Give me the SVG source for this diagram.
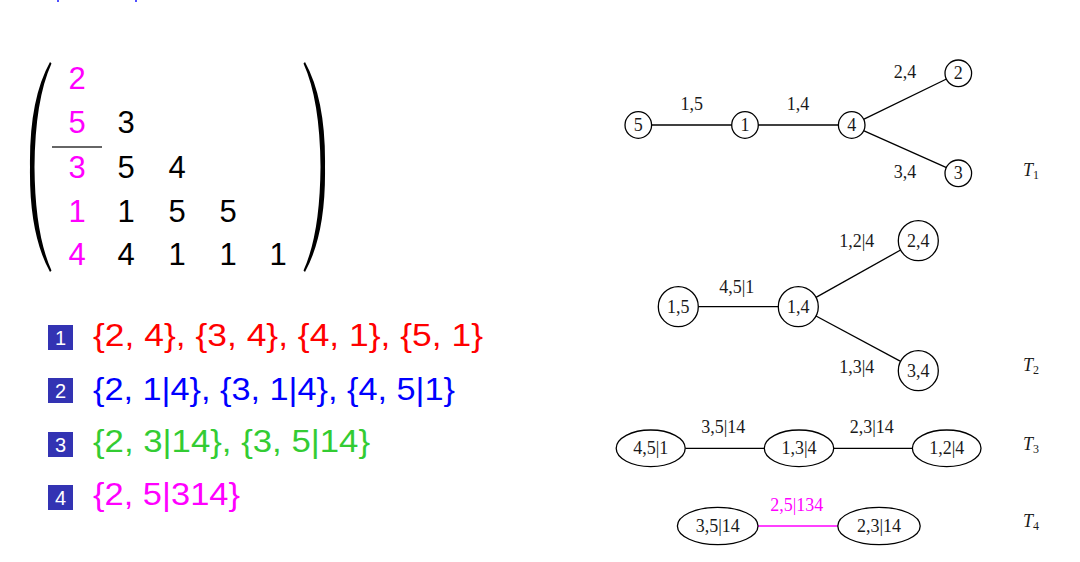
<svg xmlns="http://www.w3.org/2000/svg" width="1080" height="562" viewBox="0 0 1080 562">
<style>
.mx{font-family:"Liberation Sans","DejaVu Sans",sans-serif;font-size:31px;text-anchor:middle}
.mg{fill:#FF00FF}
.bk{fill:#000}
.li{font-family:"Liberation Sans","DejaVu Sans",sans-serif;font-size:32px}
.bx{fill:#3333B3}
.bn{font-family:"Liberation Sans","DejaVu Sans",sans-serif;font-size:20px;fill:#fff;text-anchor:middle}
.nd{fill:#fff;stroke:#000;stroke-width:1.3}
.tl{font-family:"Liberation Serif","DejaVu Serif",serif;font-size:18px;fill:#1a1a1a;text-anchor:middle}
.tt{font-family:"Liberation Serif","DejaVu Serif",serif;font-size:18px;font-style:italic;fill:#1a1a1a}
.ed{stroke:#000;stroke-width:1.3;fill:none}
</style>
<rect width="1080" height="562" fill="#fff"/>
<rect x="57" y="0" width="2" height="2" fill="#5050ff"/>
<rect x="135" y="0" width="2" height="2" fill="#5050ff"/>

<g id="matrix">
<path d="M50,62 Q29,100 30,167 Q29,234 50,272 L51.5,270.5 Q35,234 34.5,167 Q35,100 51.5,63.5 Z" fill="#000"/>
<path d="M305,62 Q326,100 325,167 Q326,234 305,272 L303.5,270.5 Q320,234 320.5,167 Q320,100 303.5,63.5 Z" fill="#000"/>
<line x1="52" y1="147" x2="102" y2="147" stroke="#333" stroke-width="1.5"/>
<text class="mx mg" x="77" y="89">2</text>
<text class="mx mg" x="77" y="133">5</text>
<text class="mx bk" x="126" y="133">3</text>
<text class="mx mg" x="77" y="178">3</text>
<text class="mx bk" x="126" y="178">5</text>
<text class="mx bk" x="177" y="178">4</text>
<text class="mx mg" x="77" y="222">1</text>
<text class="mx bk" x="126" y="222">1</text>
<text class="mx bk" x="177" y="222">5</text>
<text class="mx bk" x="228" y="222">5</text>
<text class="mx mg" x="77" y="265">4</text>
<text class="mx bk" x="126" y="265">4</text>
<text class="mx bk" x="177" y="265">1</text>
<text class="mx bk" x="228" y="265">1</text>
<text class="mx bk" x="278" y="265">1</text>
</g>

<g id="list">
<rect class="bx" x="48" y="325" width="25" height="25"/>
<text class="bn" x="60.5" y="345">1</text>
<text class="li" x="93" y="346" fill="#FF0000" textLength="390" lengthAdjust="spacingAndGlyphs">{2, 4}, {3, 4}, {4, 1}, {5, 1}</text>
<rect class="bx" x="48" y="378" width="25" height="25"/>
<text class="bn" x="60.5" y="398">2</text>
<text class="li" x="93" y="400" fill="#0000FF" textLength="362" lengthAdjust="spacingAndGlyphs">{2, 1|4}, {3, 1|4}, {4, 5|1}</text>
<rect class="bx" x="48" y="432" width="25" height="25"/>
<text class="bn" x="60.5" y="452">3</text>
<text class="li" x="93" y="452" fill="#33CC33" textLength="277" lengthAdjust="spacingAndGlyphs">{2, 3|14}, {3, 5|14}</text>
<rect class="bx" x="48" y="485" width="25" height="25"/>
<text class="bn" x="60.5" y="505">4</text>
<text class="li" x="93" y="505" fill="#FF00FF" textLength="147" lengthAdjust="spacingAndGlyphs">{2, 5|314}</text>
</g>

<g id="connectors">
<line class="ed" x1="651.3" y1="125" x2="732" y2="125"/>
<line class="ed" x1="758" y1="125" x2="838.7" y2="125"/>
<line class="ed" x1="863.5" y1="119.3" x2="946.5" y2="79"/>
<line class="ed" x1="863.5" y1="130.7" x2="946.5" y2="167.6"/>
<line class="ed" x1="698.3" y1="306.7" x2="778.3" y2="306.7"/>
<line class="ed" x1="816" y1="297.4" x2="900.6" y2="250"/>
<line class="ed" x1="816" y1="316" x2="900.6" y2="361.4"/>
<line class="ed" x1="685.2" y1="448.3" x2="764.3" y2="448.3"/>
<line class="ed" x1="833.7" y1="448.3" x2="912.4" y2="448.3"/>
<line x1="758" y1="526" x2="837.8" y2="526" stroke="#FF00FF" stroke-width="1.3"/>
<text class="tl" x="691.7" y="110">1,5</text>
<text class="tl" x="798" y="110">1,4</text>
<text class="tl" x="905" y="78">2,4</text>
<text class="tl" x="905" y="178">3,4</text>
<text class="tl" x="736.7" y="293">4,5|1</text>
<text class="tl" x="856.7" y="247">1,2|4</text>
<text class="tl" x="856.7" y="373">1,3|4</text>
<text class="tl" x="723.3" y="433">3,5|14</text>
<text class="tl" x="871.7" y="433">2,3|14</text>
<text class="tl" x="796.7" y="511" style="fill:#FF00FF">2,5|134</text>
</g>

<g id="n5"><circle class="nd" cx="638.3" cy="125" r="13.3"/><text class="tl" x="638.3" y="131">5</text></g>
<g id="n1"><circle class="nd" cx="745" cy="125" r="13.3"/><text class="tl" x="745" y="131">1</text></g>
<g id="n4"><circle class="nd" cx="851.7" cy="125" r="13.3"/><text class="tl" x="851.7" y="131">4</text></g>
<g id="n2"><circle class="nd" cx="958.3" cy="73.3" r="13.3"/><text class="tl" x="958.3" y="79.3">2</text></g>
<g id="n3"><circle class="nd" cx="958.3" cy="173.3" r="13.3"/><text class="tl" x="958.3" y="179.3">3</text></g>
<g id="T1"><text class="tt" x="1023" y="176">T<tspan font-size="12" font-style="normal" dy="3">1</tspan></text></g>

<g id="n15"><circle class="nd" cx="678.3" cy="306.7" r="20"/><text class="tl" x="678.3" y="312.7">1,5</text></g>
<g id="n14"><circle class="nd" cx="798.3" cy="306.7" r="20"/><text class="tl" x="798.3" y="312.7">1,4</text></g>
<g id="n24"><circle class="nd" cx="918.3" cy="240.7" r="20"/><text class="tl" x="918.3" y="246.7">2,4</text></g>
<g id="n34"><circle class="nd" cx="918.3" cy="370.7" r="20"/><text class="tl" x="918.3" y="376.7">3,4</text></g>
<g id="T2"><text class="tt" x="1023" y="371">T<tspan font-size="12" font-style="normal" dy="3">2</tspan></text></g>

<g id="n451"><ellipse class="nd" cx="650.7" cy="448.3" rx="34.5" ry="18.3"/><text class="tl" x="650.7" y="454.3">4,5|1</text></g>
<g id="n134"><ellipse class="nd" cx="799" cy="448.3" rx="34.7" ry="18.3"/><text class="tl" x="799" y="454.3">1,3|4</text></g>
<g id="n124"><ellipse class="nd" cx="946.7" cy="448.3" rx="34.3" ry="18.3"/><text class="tl" x="946.7" y="454.3">1,2|4</text></g>
<g id="T3"><text class="tt" x="1023" y="450">T<tspan font-size="12" font-style="normal" dy="3">3</tspan></text></g>

<g id="n3514"><ellipse class="nd" cx="717.7" cy="526" rx="40.3" ry="18.7"/><text class="tl" x="717.7" y="532">3,5|14</text></g>
<g id="n2314"><ellipse class="nd" cx="879" cy="526" rx="41.2" ry="18.7"/><text class="tl" x="879" y="532">2,3|14</text></g>
<g id="T4"><text class="tt" x="1023" y="527">T<tspan font-size="12" font-style="normal" dy="3">4</tspan></text></g>
</svg>
